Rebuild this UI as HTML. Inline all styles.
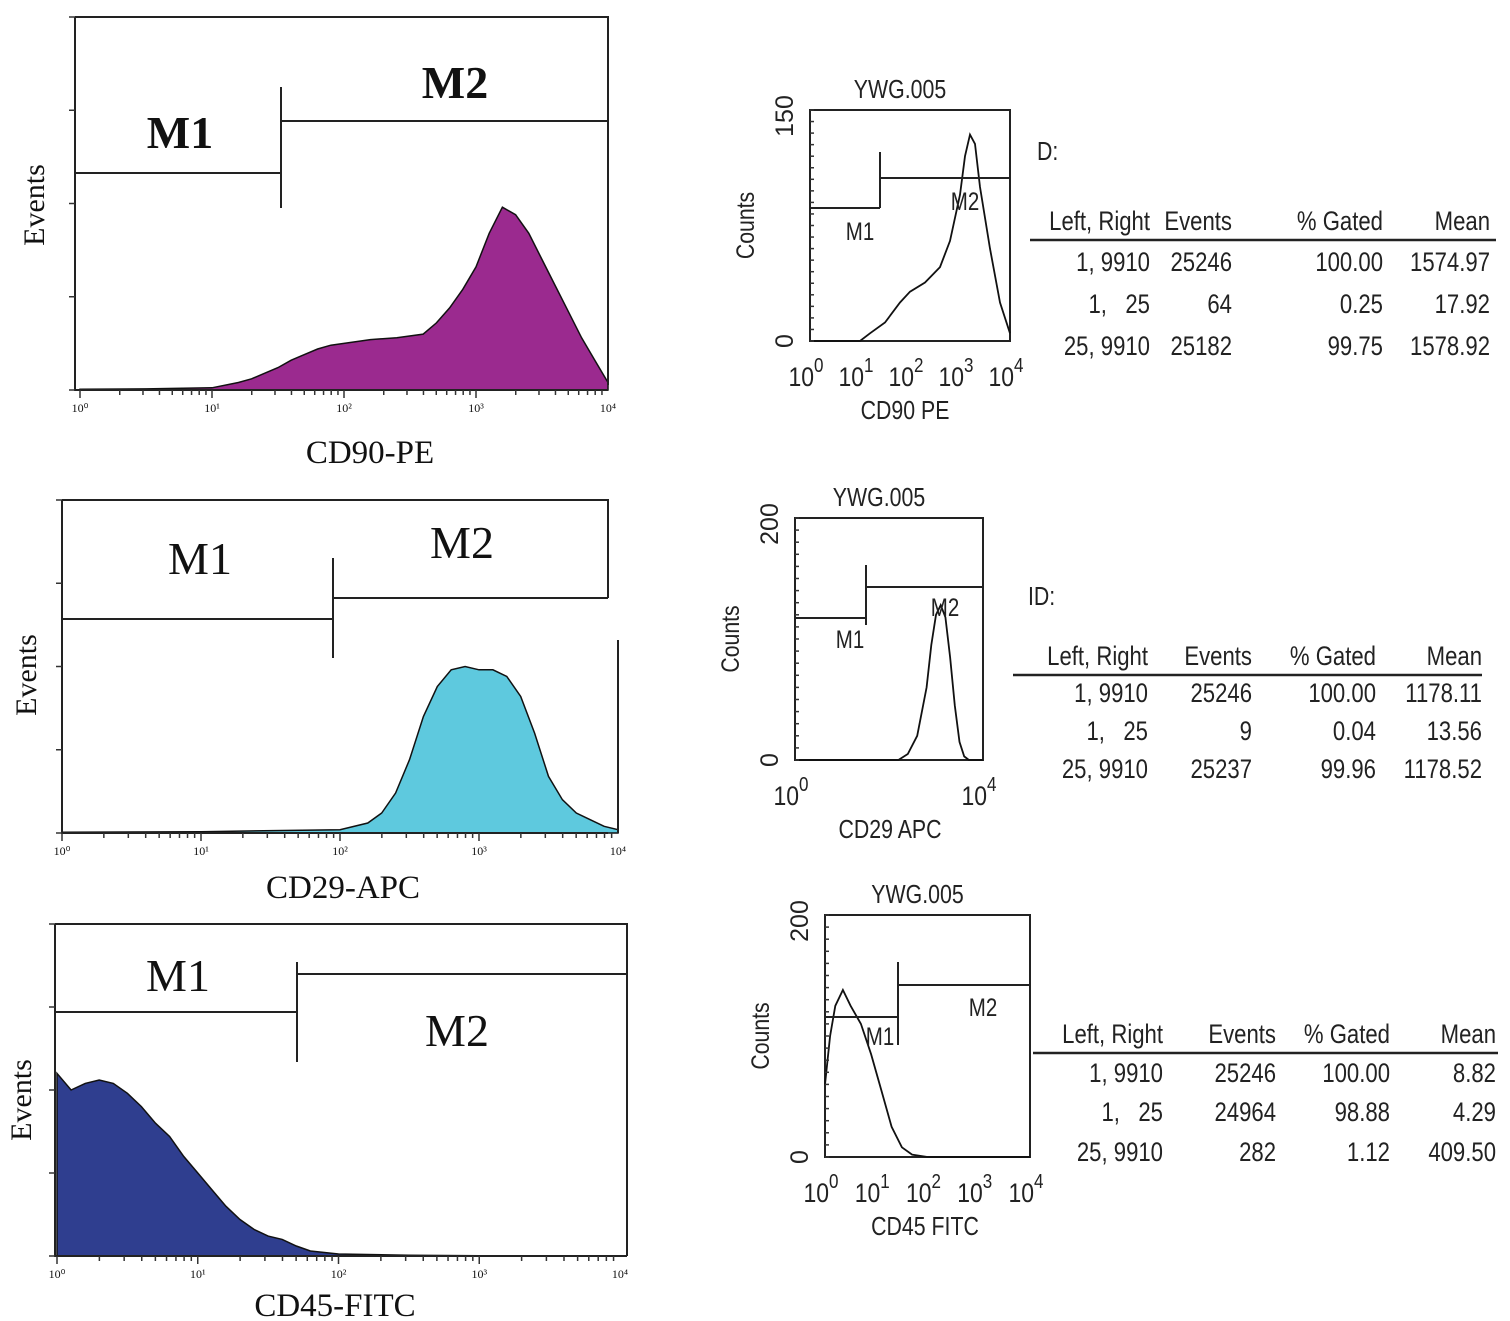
<!DOCTYPE html>
<html><head><meta charset="utf-8">
<style>
html,body{margin:0;padding:0;background:#fff;}
svg{display:block;}
.serif{font-family:"Liberation Serif",serif;fill:#111;}
.px{font-family:"Liberation Sans Narrow","Liberation Sans",sans-serif;fill:#222;}
</style></head>
<body>
<svg id="fig" width="1510" height="1321" viewBox="0 0 1510 1321" xmlns="http://www.w3.org/2000/svg"></svg>
<script>
// ---- data (decade positions, log10 scale 0..4) ----
const cd90Dec = [0,0.5,1.0,1.2,1.3,1.4,1.5,1.6,1.7,1.8,1.9,2.0,2.2,2.4,2.6,2.7,2.8,2.9,3.0,3.1,3.2,3.3,3.4,3.5,3.6,3.7,3.8,3.9,4.0];
const cd90Val = [0.002,0.003,0.006,0.02,0.03,0.045,0.06,0.08,0.095,0.11,0.12,0.125,0.135,0.14,0.15,0.18,0.22,0.27,0.33,0.42,0.49,0.47,0.42,0.35,0.28,0.21,0.14,0.08,0.02];
const cd29Dec = [0,1.0,2.0,2.2,2.3,2.4,2.5,2.6,2.7,2.8,2.9,3.0,3.1,3.2,3.3,3.4,3.5,3.6,3.7,3.8,3.9,4.0];
const cd29Val = [0.002,0.004,0.01,0.03,0.06,0.12,0.22,0.35,0.44,0.49,0.5,0.49,0.49,0.47,0.41,0.3,0.17,0.1,0.06,0.04,0.02,0.01];
const cd45Dec = [0,0.1,0.2,0.3,0.4,0.5,0.6,0.7,0.8,0.9,1.0,1.1,1.2,1.3,1.4,1.5,1.6,1.7,1.8,2.0,2.5,3.0,4.0];
const cd45Val = [0.55,0.5,0.52,0.53,0.52,0.49,0.45,0.4,0.36,0.3,0.25,0.2,0.15,0.11,0.08,0.06,0.05,0.03,0.015,0.006,0.002,0.001,0.001];
// right-side small histograms (counts)
const r1Dec = [0,1.0,1.2,1.5,1.8,2.0,2.3,2.6,2.8,3.0,3.1,3.2,3.3,3.4,3.6,3.8,4.0];
const r1Cnt = [0,0,5,12,25,32,38,48,65,95,120,134,128,100,60,25,5];
const r2Dec = [0,2.2,2.4,2.6,2.8,2.9,3.0,3.1,3.2,3.3,3.4,3.5,3.6,3.7,4.0];
const r2Cnt = [0,0,5,20,60,95,120,128,118,85,45,15,3,0,0];
const r3Dec = [0,0.1,0.2,0.35,0.5,0.7,0.9,1.1,1.3,1.5,1.7,2.0,4.0];
const r3Cnt = [60,100,125,138,125,110,85,55,25,8,2,0,0];
// tables
const tblHeader = ["Left, Right","Events","% Gated","Mean"];
const tbl1 = [["1, 9910","25246","100.00","1574.97"],["1,   25","64","0.25","17.92"],["25, 9910","25182","99.75","1578.92"]];
const tbl2 = [["1, 9910","25246","100.00","1178.11"],["1,   25","9","0.04","13.56"],["25, 9910","25237","99.96","1178.52"]];
const tbl3 = [["1, 9910","25246","100.00","8.82"],["1,   25","24964","98.88","4.29"],["25, 9910","282","1.12","409.50"]];

const NS="http://www.w3.org/2000/svg";
const svg=document.getElementById('fig');
function mk(tag,attrs,parent){const e=document.createElementNS(NS,tag);for(const k in attrs)e.setAttribute(k,attrs[k]);(parent||svg).appendChild(e);return e;}
function txt(s,attrs,parent){const e=mk('text',attrs,parent);e.textContent=s;return e;}

function leftPanel(o){
  const g=mk('g',{});
  
  
  const sx=d=>o.x0+d*(o.x1-o.x0)/4;
  const sy=v=>o.yb-v*(o.yb-o.yt);
  let d='M'+sx(o.dec[0])+','+o.yb;
  for(let i=0;i<o.dec.length;i++){d+=' L'+sx(o.dec[i]).toFixed(1)+','+sy(o.val[i]).toFixed(1);}
  d+=' L'+sx(o.dec[o.dec.length-1])+','+o.yb+' Z';
  const h=mk('path',{d:d,fill:o.color,stroke:'#111','stroke-width':1.5},g);
  
  
  const ax=mk('path',{d:`M${o.ax},${o.yt} L${o.ax},${o.yb} L${o.rx},${o.yb} M${o.ax},${o.yt} L${o.rx},${o.yt} L${o.rx},${o.rb}`,fill:'none',stroke:'#222','stroke-width':2},g);
  
  
  for(let dec=0;dec<4;dec++){for(let m=1;m<=9;m++){const x=sx(dec+Math.log10(m));const t=mk('line',{x1:x,x2:x,y1:o.yb,y2:o.yb+(m==1?8:5),stroke:'#333','stroke-width':1.5},g);}}
  for(let dec=0;dec<=4;dec++){const l=txt('10'+['⁰','¹','²','³','⁴'][dec],{x:sx(dec),y:o.yb+22,'font-size':12,'text-anchor':'middle',class:'serif',fill:'#555'},g);}
  for(let k=0;k<=4;k++){const y=o.yb-k*(o.yb-o.yt)/4;const t=mk('line',{x1:o.ax-6,x2:o.ax,y1:y,y2:y,stroke:'#333','stroke-width':1.5},g);}
  const m1=mk('path',{d:`M${o.ax},${o.m1y} L${o.mx},${o.m1y} M${o.mx},${o.mvt} L${o.mx},${o.mvb} M${o.mx},${o.m2y} L${o.rx},${o.m2y}`,fill:'none',stroke:'#222','stroke-width':2},g);
  
  
  const l1=txt('M1',{x:o.m1lx,y:o.m1ly,'font-size':46,'font-weight':o.bold?'bold':'normal','text-anchor':'middle',class:'serif'},g);
  
  
  const l2=txt('M2',{x:o.m2lx,y:o.m2ly,'font-size':46,'font-weight':o.bold?'bold':'normal','text-anchor':'middle',class:'serif'},g);
  
  
  const ev=txt('Events',{x:0,y:0,'font-size':30,'text-anchor':'middle',class:'serif',transform:`translate(${o.evx},${o.evy}) rotate(-90)`},g);
  
  
  const xt=txt(o.title,{x:o.tx,y:o.ty,'font-size':33,'text-anchor':'middle',class:'serif'},g);
  
  
}

leftPanel({name:'cd90-pe-histogram',dec:cd90Dec,val:cd90Val,color:'#9b2a8f',x0:80,x1:608,ax:75,rx:608,yt:17,yb:390,rb:385,
  m1y:173,m2y:121,mx:281,mvt:87,mvb:208,m1lx:180,m1ly:148,m2lx:455,m2ly:98,bold:true,evx:44,evy:205,title:'CD90-PE',tx:370,ty:463});
leftPanel({name:'cd29-apc-histogram',dec:cd29Dec,val:cd29Val,color:'#5ec9de',x0:62,x1:618,ax:62,rx:608,yt:500,yb:833,rb:598,
  m1y:619,m2y:598,mx:333,mvt:558,mvb:658,m1lx:200,m1ly:574,m2lx:462,m2ly:558,bold:false,evx:36,evy:675,title:'CD29-APC',tx:343,ty:898});
leftPanel({name:'cd45-fitc-histogram',dec:cd45Dec,val:cd45Val,color:'#2f3e8f',x0:57,x1:620,ax:55,rx:627,yt:924,yb:1256,rb:1256,
  m1y:1012,m2y:974,mx:297,mvt:962,mvb:1062,m1lx:178,m1ly:991,m2lx:457,m2ly:1046,bold:false,evx:31,evy:1100,title:'CD45-FITC',tx:335,ty:1316});
(function(){const l=mk('line',{x1:618,x2:618,y1:640,y2:833,stroke:'#222','stroke-width':2});})();

// narrow text: scaled horizontally around its anchor
function ntxt(s,x,y,size,anchor,parent){
  const e=mk('text',{x:0,y:0,'font-size':size,'text-anchor':anchor,class:'px',transform:`translate(${x},${y}) scale(0.82,1)`},parent);
  e.textContent=s;
  e.style.whiteSpace='pre';
  return e;
}

function rightPanel(o){
  const g=mk('g',{});
  
  
  const sx=d=>o.x0+d*(o.x1-o.x0)/4;
  const sy=c=>o.yb-c/o.max*(o.yb-o.yt);
  const box=mk('rect',{x:o.x0,y:o.yt,width:o.x1-o.x0,height:o.yb-o.yt,fill:'none',stroke:'#222','stroke-width':2},g);
  
  
  let d='';
  for(let i=0;i<o.dec.length;i++){d+=(i?' L':'M')+sx(o.dec[i]).toFixed(1)+','+sy(o.cnt[i]).toFixed(1);}
  const c=mk('path',{d:d,fill:'none',stroke:'#111','stroke-width':1.8},g);
  
  
  for(let k=0;k<=20;k++){const y=o.yb-k*(o.yb-o.yt)/20;const t=mk('line',{x1:o.x0,x2:o.x0+4,y1:y,y2:y,stroke:'#333','stroke-width':1.5},g);}
  const mp=mk('path',{d:`M${o.x0},${o.m1y} L${o.mx},${o.m1y} M${o.mx},${o.mvt} L${o.mx},${o.mvb} M${o.mx},${o.m2y} L${o.x1},${o.m2y}`,fill:'none',stroke:'#222','stroke-width':2},g);
  
  
  const a=ntxt('M1',o.m1lx,o.m1ly,25,'middle',g);
  
  
  const b=ntxt('M2',o.m2lx,o.m2ly,25,'middle',g);
  
  
  const t=ntxt('YWG.005',(o.x0+o.x1)/2-10,o.yt-12,26,'middle',g);
  
  
  const ymax=txt(String(o.max),{x:0,y:0,'font-size':25,'text-anchor':'middle',class:'px',transform:`translate(${o.x0-17},${o.yt+6}) rotate(-90)`},g);
  
  
  const y0=txt('0',{x:0,y:0,'font-size':25,'text-anchor':'middle',class:'px',transform:`translate(${o.x0-17},${o.yb}) rotate(-90)`},g);
  
  
  const ct=txt('Counts',{x:0,y:0,'font-size':25,'text-anchor':'middle',class:'px',transform:`translate(${o.x0-56},${(o.yt+o.yb)/2}) rotate(-90) scale(0.85,1)`},g);
  
  
  for(const dec of o.xlabels){const e=txt('',{x:0,y:0,'font-size':27,'text-anchor':'middle',class:'px',transform:`translate(${sx(dec)-4},${o.yb+45}) scale(0.85,1)`},g);
    const s1=mk('tspan',{},e);s1.textContent='10';const s2=mk('tspan',{dy:-14,'font-size':20},e);s2.textContent=String(dec);}
  const xt=ntxt(o.title,o.tx,o.yb+78,26,'middle',g);
  
  
  if(o.tag){const e=ntxt(o.tag,o.tagx,o.tagy,26,'start',g);}
  const tg=mk('g',{},g);
  
  
  for(let i=0;i<4;i++){const e=ntxt(tblHeader[i],o.cols[i],o.hy,27,'end',tg);}
  const ln=mk('line',{x1:o.lx0,x2:o.lx1,y1:o.ly,y2:o.ly,stroke:'#222','stroke-width':2.5},tg);
  
  
  for(let r=0;r<o.rows.length;r++){for(let i=0;i<4;i++){const e=ntxt(o.rows[r][i],o.cols[i],o.ry[r],27,'end',tg);}}
}

rightPanel({name:'cd90-pe-counts',dec:r1Dec,cnt:r1Cnt,max:150,x0:810,x1:1010,yt:110,yb:341,m1y:208,m2y:178,mx:880,mvt:152,mvb:208,
  m1lx:860,m1ly:240,m2lx:965,m2ly:210,xlabels:[0,1,2,3,4],title:'CD90 PE',tx:905,tag:'D:',tagx:1037,tagy:160,
  cols:[1150,1232,1383,1490],hy:230,lx0:1030,lx1:1496,ly:240,ry:[271,313,355],rows:tbl1});
rightPanel({name:'cd29-apc-counts',dec:r2Dec,cnt:r2Cnt,max:200,x0:795,x1:983,yt:518,yb:760,m1y:618,m2y:587,mx:866,mvt:565,mvb:625,
  m1lx:850,m1ly:648,m2lx:945,m2ly:616,xlabels:[0,4],title:'CD29 APC',tx:890,tag:'ID:',tagx:1028,tagy:605,
  cols:[1148,1252,1376,1482],hy:665,lx0:1013,lx1:1482,ly:675,ry:[702,740,778],rows:tbl2});
rightPanel({name:'cd45-fitc-counts',dec:r3Dec,cnt:r3Cnt,max:200,x0:825,x1:1030,yt:915,yb:1157,m1y:1017,m2y:985,mx:898,mvt:962,mvb:1045,
  m1lx:880,m1ly:1045,m2lx:983,m2ly:1016,xlabels:[0,1,2,3,4],title:'CD45 FITC',tx:925,tag:'',
  cols:[1163,1276,1390,1496],hy:1043,lx0:1033,lx1:1498,ly:1053,ry:[1082,1121,1161],rows:tbl3});
</script>
</body></html>
